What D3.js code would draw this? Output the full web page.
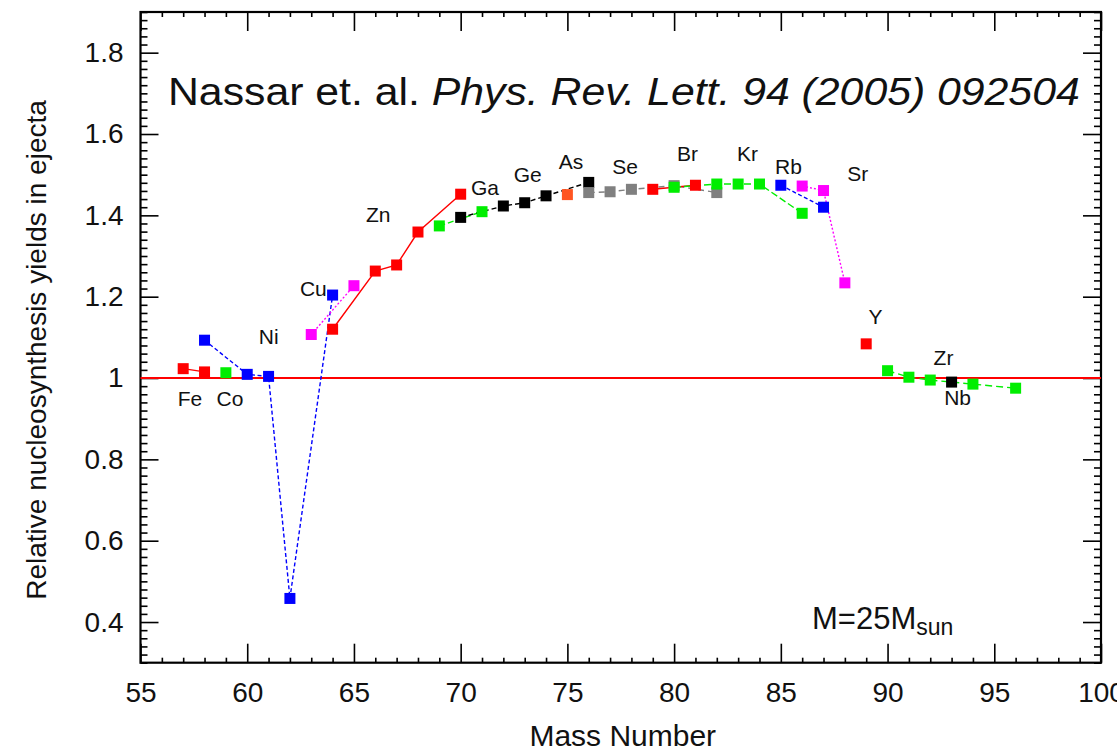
<!DOCTYPE html>
<html>
<head>
<meta charset="utf-8">
<script src="https://cdn.jsdelivr.net/npm/d3@7"></script>
<style>
  body { margin: 0; background: #fff; }
  text { font-family: "Liberation Sans", Arial, sans-serif; fill: #111; }
</style>
</head>
<body>
<div id="chart"></div>
<script>
const width = 1117;
const height = 752;

// mass numbers and relative yields, one pair of arrays per element
const feMass = [57, 58];
const feYield = [1.023, 1.015];
const coMass = [59];
const coYield = [1.013];
const niMass = [58, 60, 61, 62, 64];
const niYield = [1.093, 1.009, 1.004, 0.458, 1.204];
const cuMass = [63, 65];
const cuYield = [1.107, 1.227];
const znMass = [64, 66, 67, 68, 70];
const znYield = [1.120, 1.263, 1.278, 1.359, 1.452];
const gaMass = [69, 71];
const gaYield = [1.374, 1.409];
const geMass = [70, 72, 73, 74, 76];
const geYield = [1.395, 1.423, 1.431, 1.448, 1.481];
const asMass = [75];
const asYield = [1.451];
const seMass = [76, 77, 78, 80, 82];
const seYield = [1.456, 1.458, 1.464, 1.473, 1.456];
const brMass = [79, 81];
const brYield = [1.464, 1.474];
const krMass = [80, 82, 83, 84, 86];
const krYield = [1.469, 1.477, 1.477, 1.477, 1.405];
const rbMass = [85, 87];
const rbYield = [1.474, 1.420];
const srMass = [86, 87, 88];
const srYield = [1.472, 1.461, 1.234];
const yMass = [89];
const yYield = [1.084];
const zrMass = [90, 91, 92, 94, 96];
const zrYield = [1.018, 1.002, 0.995, 0.985, 0.975];
const nbMass = [93];
const nbYield = [0.990];

// element labels: name, mass position, yield position
const labelNames = ["Fe", "Co", "Ni", "Cu", "Zn", "Ga", "Ge", "As", "Se", "Br", "Kr", "Rb", "Sr", "Y", "Zr", "Nb"];
const labelMass = [57.32, 59.19, 61.01, 63.1, 66.14, 71.14, 73.14, 75.17, 77.7, 80.63, 83.44, 85.36, 88.6, 89.43, 92.62, 93.28];
const labelYield = [0.931, 0.931, 1.083, 1.201, 1.383, 1.451, 1.482, 1.514, 1.502, 1.533, 1.533, 1.502, 1.484, 1.134, 1.031, 0.933];

const xTicks = [55, 60, 65, 70, 75, 80, 85, 90, 95, 100];
const yTicks = [0.4, 0.6, 0.8, 1.0, 1.2, 1.4, 1.6, 1.8];

const svg = d3.select("#chart").append("svg")
    .attr("width", width)
    .attr("height", height);

const x = d3.scaleLinear().domain([55, 100]).range([140.5, 1101]);
const y = d3.scaleLinear().domain([0.3, 1.9]).range([662.7, 12]);

const zip = (a, b) => a.map((m, i) => [m, b[i]]);

// series table built from the arrays above
const series = [
    { pts: zip(feMass, feYield), color: "#ff0000", dash: null },
    { pts: zip(coMass, coYield), color: "#00ee00", dash: null },
    { pts: zip(niMass, niYield), color: "#0000ff", dash: "4,2.5" },
    { pts: zip(cuMass, cuYield), color: "#ff00ff", dash: "2,2" },
    { pts: zip(znMass, znYield), color: "#ff0000", dash: null },
    { pts: zip(gaMass, gaYield), color: "#00ee00", dash: "6,3" },
    { pts: zip(geMass, geYield), color: "#000000", dash: "5,3" },
    { pts: zip(asMass, asYield), color: "#ff5522", dash: null },
    { pts: zip(seMass, seYield), color: "#808080", dash: "6,4" },
    { pts: zip(brMass, brYield), color: "#ff0000", dash: null },
    { pts: zip(krMass, krYield), color: "#00ee00", dash: "7,3" },
    { pts: zip(rbMass, rbYield), color: "#0000ff", dash: "4,2.5" },
    { pts: zip(srMass, srYield), color: "#ff00ff", dash: "2,2" },
    { pts: zip(yMass, yYield), color: "#ff0000", dash: null },
    { pts: zip(zrMass, zrYield), color: "#00ee00", dash: "7,4" },
    { pts: zip(nbMass, nbYield), color: "#000000", dash: null }
];

// minor ticks
const xMinor = d3.range(55, 101).filter(d => d % 5 !== 0);
const yMinor = d3.range(0, 81).map(i => +(0.3 + i * 0.02).toFixed(2))
    .filter(d => Math.abs(d * 5 - Math.round(d * 5)) > 1e-6);

function tickAxis(axis, values, size, fmt, pad) {
    return axis.tickValues(values).tickSizeInner(-size).tickSizeOuter(0)
        .tickPadding(pad || 0).tickFormat(fmt || "");
}

const axes = svg.append("g").attr("class", "axes");

// bottom
axes.append("g").attr("transform", `translate(0,${y(0.3)})`)
    .call(tickAxis(d3.axisBottom(x), xMinor, 5));
axes.append("g").attr("transform", `translate(0,${y(0.3)})`)
    .call(tickAxis(d3.axisBottom(x), xTicks, 19, d => String(d), 19));
// top
axes.append("g").attr("transform", `translate(0,${y(1.9)})`)
    .call(tickAxis(d3.axisTop(x), xMinor, 5));
axes.append("g").attr("transform", `translate(0,${y(1.9)})`)
    .call(tickAxis(d3.axisTop(x), xTicks, 19));
// left
axes.append("g").attr("transform", `translate(${x(55)},0)`)
    .call(tickAxis(d3.axisLeft(y), yMinor, 7));
axes.append("g").attr("transform", `translate(${x(55)},0)`)
    .call(tickAxis(d3.axisLeft(y), yTicks, 18, d => String(+d.toFixed(1)), 17));
// right
axes.append("g").attr("transform", `translate(${x(100)},0)`)
    .call(tickAxis(d3.axisRight(y), yMinor, 7));
axes.append("g").attr("transform", `translate(${x(100)},0)`)
    .call(tickAxis(d3.axisRight(y), yTicks, 18));

axes.selectAll(".domain").remove();
axes.selectAll(".tick line").attr("stroke", "#000").attr("stroke-width", 1.6);
axes.selectAll(".tick text")
    .attr("fill", "#111")
    .style("font-size", "28px")
    .style("font-family", "'Liberation Sans', Arial, sans-serif");

// frame
svg.append("rect")
    .attr("x", x(55)).attr("y", y(1.9))
    .attr("width", x(100) - x(55)).attr("height", y(0.3) - y(1.9))
    .attr("fill", "none").attr("stroke", "#000").attr("stroke-width", 2.2);

// reference line at 1
svg.append("line")
    .attr("x1", x(55)).attr("x2", x(100))
    .attr("y1", y(1)).attr("y2", y(1))
    .attr("stroke", "#ff0000").attr("stroke-width", 2);

const line = d3.line().x(d => x(d[0])).y(d => y(d[1]));

svg.append("g").selectAll("path")
    .data(series.filter(s => s.pts.length > 1))
    .enter().append("path")
    .attr("d", d => line(d.pts))
    .attr("fill", "none")
    .attr("stroke", d => d.color)
    .attr("stroke-width", 1.4)
    .attr("stroke-dasharray", d => d.dash);

const sq = 11;
series.forEach(s => {
    svg.append("g").selectAll("rect")
        .data(s.pts)
        .enter().append("rect")
        .attr("x", d => x(d[0]) - sq / 2)
        .attr("y", d => y(d[1]) - sq / 2)
        .attr("width", sq)
        .attr("height", sq)
        .attr("fill", s.color);
});

// element labels
svg.append("g").selectAll("text")
    .data(labelNames)
    .enter().append("text")
    .attr("x", (d, i) => x(labelMass[i]))
    .attr("y", (d, i) => y(labelYield[i]))
    .attr("text-anchor", "middle")
    .style("font-size", "21px")
    .text(d => d);

// reference title, stretched to the width it has in the original
const titleLeft = 168, titleWidth = 912;
const titleG = svg.append("g");
const title = titleG.append("text")
    .attr("x", 0).attr("y", 0)
    .style("font-size", "38px");
title.append("tspan").text("Nassar et. al. ");
title.append("tspan").style("font-style", "italic").text("Phys. Rev. Lett. 94 (2005) 092504");
const tw = title.node().getComputedTextLength();
titleG.attr("transform", `translate(${titleLeft},105) scale(${titleWidth / tw},1)`);

// mass note
const note = svg.append("text")
    .attr("x", 812).attr("y", 629)
    .style("font-size", "31px");
note.append("tspan").text("M=25M");
note.append("tspan").attr("dy", 6).style("font-size", "23px").text("sun");

// axis titles
svg.append("text")
    .attr("x", (x(55) + x(100)) / 2 + 2).attr("y", 746)
    .attr("text-anchor", "middle")
    .style("font-size", "30px")
    .text("Mass Number");

svg.append("text")
    .attr("transform", "translate(46,350) rotate(-90)")
    .attr("text-anchor", "middle")
    .style("font-size", "28px")
    .text("Relative nucleosynthesis yields in ejecta");
</script>
</body>
</html>
